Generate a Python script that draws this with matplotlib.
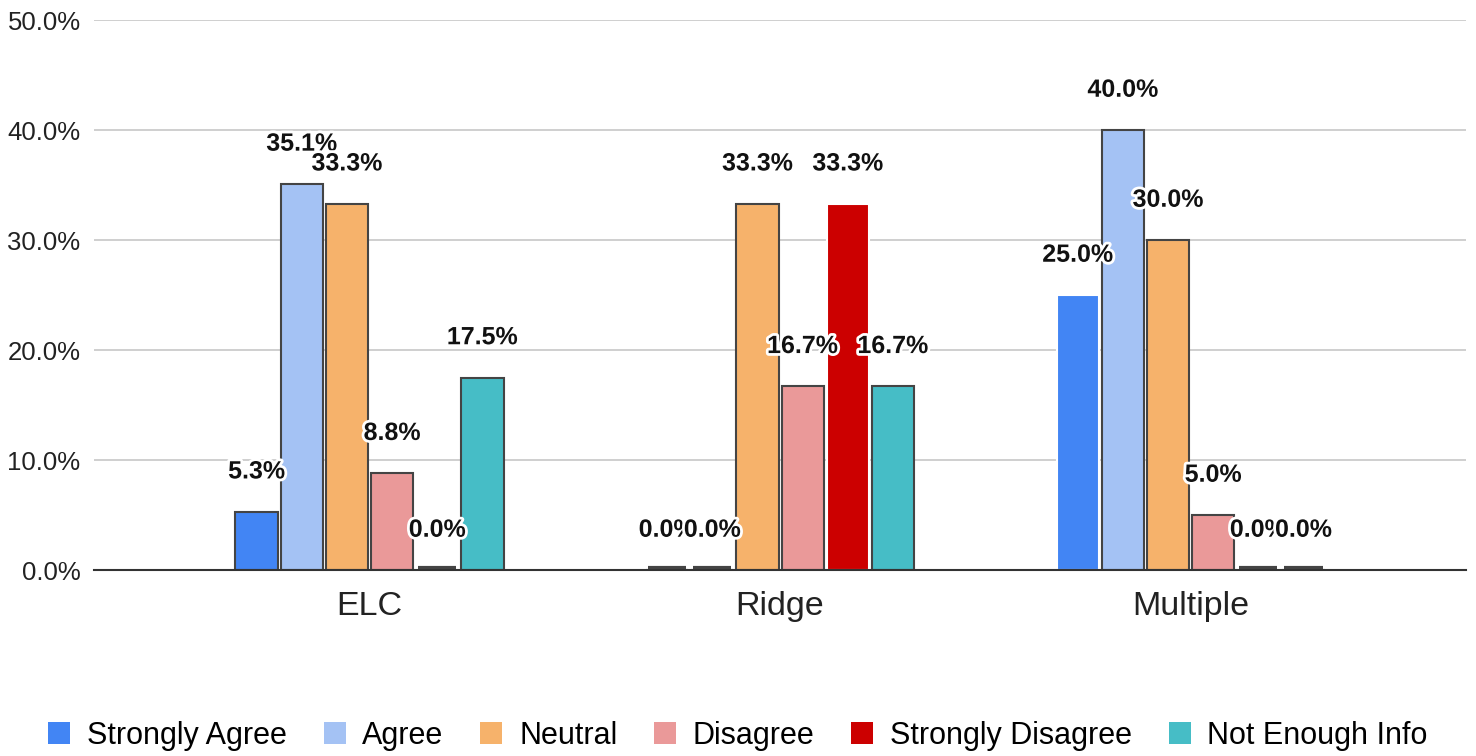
import numpy as np
import matplotlib.pyplot as plt
import matplotlib.patheffects as pe
from matplotlib.patches import Patch

plt.rcParams['font.family'] = ['Liberation Sans', 'DejaVu Sans']

groups = ['ELC', 'Ridge', 'Multiple']
series = ['Strongly Agree', 'Agree', 'Neutral', 'Disagree', 'Strongly Disagree', 'Not Enough Info']
strongly_agree = [5.3, 0.0, 25.0]
agree = [35.1, 0.0, 40.0]
neutral = [33.3, 33.3, 30.0]
disagree = [8.8, 16.7, 5.0]
strongly_disagree = [0.0, 33.3, 0.0]
not_enough_info = [17.5, 16.7, 0.0]
values = [strongly_agree, agree, neutral, disagree, strongly_disagree, not_enough_info]

colors = ['#4285F4', '#A4C2F4', '#F6B26B', '#EA9999', '#CC0000', '#46BDC6']

fig = plt.figure(figsize=(14.76, 7.56), dpi=100)
ax = fig.add_axes([0.064, 0.246, 0.929, 0.7275])

x = np.arange(len(groups))
pitch = 0.11
width = 0.103
for i, (name, vals) in enumerate(zip(series, values)):
    pos = x + (i - 2.5) * pitch
    # a few bars in the original are drawn with a white outline
    edge = ['#444444'] * len(groups)
    if name == 'Strongly Disagree':
        edge = ['#ffffff'] * len(groups)
    if name == 'Strongly Agree':
        edge[2] = '#ffffff'
    ax.bar(pos, vals, width, color=colors[i], edgecolor=edge, linewidth=1.5, zorder=3)
    for px, v in zip(pos, vals):
        if v == 0:
            ax.plot([px - width * 0.45, px + width * 0.45], [0.15, 0.15], color='#444444',
                    lw=3, solid_capstyle='butt', zorder=4)
        ax.annotate(f'{v:.1f}%', (px, v), xytext=(0, 29), textcoords='offset points',
                    ha='center', va='center', fontsize=18, fontweight='bold', color='#111111',
                    zorder=6, path_effects=[pe.withStroke(linewidth=4, foreground='white')])

ax.set_xlim(-0.67, 2.67)
ax.set_ylim(0, 50)
ax.set_yticks(np.arange(0, 51, 10))
ax.set_yticklabels([f'{t:.1f}%' for t in np.arange(0, 51, 10)], fontsize=18.5)
ax.set_xticks(x)
ax.set_xticklabels(groups, fontsize=24.5)
ax.tick_params(axis='both', length=0, colors='#222222')
ax.tick_params(axis='x', pad=15)
ax.tick_params(axis='y', pad=10)
ax.grid(axis='y', color='#cccccc', linewidth=1.3, zorder=0)
for s in ['top', 'right', 'left']:
    ax.spines[s].set_visible(False)
ax.spines['bottom'].set_color('#333333')
ax.spines['bottom'].set_linewidth(1.5)
ax.spines['bottom'].set_zorder(5)

handles = [Patch(facecolor=c, edgecolor='none') for c in colors]
fig.legend(handles, series, loc='center', bbox_to_anchor=(0.5, 0.0265), ncol=6,
           frameon=False, fontsize=22, handlelength=0.72, handleheight=0.72,
           handletextpad=0.55, columnspacing=1.2, borderpad=0)

plt.savefig('out.png', dpi=100)
